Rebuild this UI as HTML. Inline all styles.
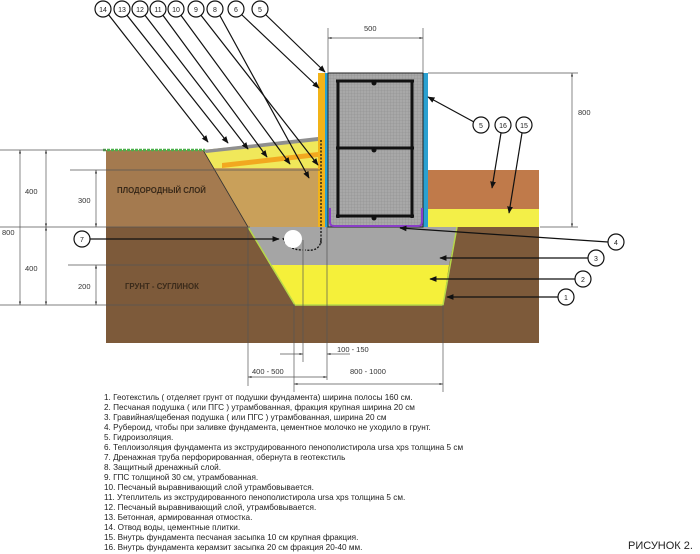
<!DOCTYPE html>
<html><head><meta charset="utf-8"><style>
html,body{margin:0;padding:0;background:#fff}
svg{display:block}
text{font-family:"Liberation Sans",sans-serif}
</style></head><body>
<svg width="700" height="554" viewBox="0 0 700 554" xmlns="http://www.w3.org/2000/svg">
<defs>
<marker id="a" viewBox="0 0 10 10" refX="9" refY="5" markerWidth="6" markerHeight="6" orient="auto-start-reverse"><path d="M0,1 L10,5 L0,9z" fill="#111"/></marker>
<marker id="d" viewBox="0 0 10 10" refX="10" refY="5" markerWidth="5" markerHeight="5" orient="auto-start-reverse"><path d="M0,2 L10,5 L0,8z" fill="#333"/></marker>
<pattern id="g" width="3" height="3" patternUnits="userSpaceOnUse"><rect width="3" height="3" fill="#a8a8a8"/><path d="M0,0H3M0,0V3" stroke="#8c8c8c" stroke-width="0.6"/></pattern>
</defs>
<rect x="106" y="150" width="220" height="77" fill="#a47a4f"/>
<rect x="106" y="227" width="433" height="116" fill="#7d5a3a"/>
<polygon points="203,150 318,138 318,227 248,227" fill="#c9a05a"/>
<polygon points="203,150 318,138 318,168 214,168" fill="#f0e85a"/>
<polygon points="222,163 318,152 318,157 222,168" fill="#f2a820"/>
<polygon points="203,150 318,137 318,141 206,153" fill="#8f8f8f"/>
<line x1="203" y1="150" x2="248" y2="227" stroke="#333" stroke-width="0.8"/>
<polygon points="248,227 457,227 449,265 270,265" fill="#a5a5a5"/>
<polygon points="270,265 449,265 443,305 295,305" fill="#f5f03a"/>
<polyline points="248,227 295,305 443,305 457,227" fill="none" stroke="#b6d84a" stroke-width="1.5"/>
<rect x="428" y="170" width="111" height="39" fill="#c07a4a"/>
<rect x="428" y="209" width="111" height="18" fill="#f3ef48"/>
<line x1="103" y1="150" x2="205" y2="150" stroke="#4cb04c" stroke-width="2.5" stroke-dasharray="3,1"/>
<rect x="318" y="73" width="7" height="154" fill="#f2b318"/>
<rect x="325" y="73" width="3" height="154" fill="#2aa0d0"/>
<rect x="423" y="73" width="5" height="154" fill="#2aa0d0"/>
<rect x="328" y="73" width="95" height="154" fill="url(#g)" stroke="#222" stroke-width="1"/>
<path d="M330,208 V222 Q330,226 334,226 H418 Q422,226 422,222 V208" fill="none" stroke="#8a3ec8" stroke-width="2"/>
<g stroke="#111" stroke-width="3">
<line x1="338" y1="80" x2="338" y2="218"/><line x1="412" y1="80" x2="412" y2="218"/>
<line x1="336" y1="81" x2="414" y2="81"/><line x1="336" y1="148" x2="414" y2="148"/><line x1="336" y1="216" x2="414" y2="216"/>
</g>
<g fill="#111"><circle cx="374" cy="83" r="2.5"/><circle cx="374" cy="150" r="2.5"/><circle cx="374" cy="218" r="2.5"/></g>
<line x1="321" y1="140" x2="321" y2="245" stroke="#111" stroke-width="1.3" stroke-dasharray="2,1.5"/>
<path d="M321,240 Q320,252 305,250 M283,238 Q287,250 303,250" fill="none" stroke="#111" stroke-width="1.3" stroke-dasharray="2,1.5"/>
<circle cx="293" cy="239" r="9" fill="#fff"/>
<g stroke="#555" stroke-width="0.7" fill="none">
<line x1="0" y1="150" x2="106" y2="150"/>
<line x1="70" y1="170" x2="320" y2="170"/>
<line x1="0" y1="227" x2="250" y2="227"/>
<line x1="68" y1="265" x2="270" y2="265"/>
<line x1="0" y1="305" x2="295" y2="305"/>
<line x1="20" y1="150" x2="20" y2="305" marker-start="url(#d)" marker-end="url(#d)"/>
<line x1="46" y1="150" x2="46" y2="227" marker-start="url(#d)" marker-end="url(#d)"/>
<line x1="46" y1="227" x2="46" y2="305" marker-start="url(#d)" marker-end="url(#d)"/>
<line x1="96" y1="170" x2="96" y2="227" marker-start="url(#d)" marker-end="url(#d)"/>
<line x1="96" y1="265" x2="96" y2="305" marker-start="url(#d)" marker-end="url(#d)"/>
<line x1="328" y1="28" x2="328" y2="73"/><line x1="423" y1="28" x2="423" y2="73"/>
<line x1="328" y1="38" x2="423" y2="38" marker-start="url(#d)" marker-end="url(#d)"/>
<line x1="428" y1="73" x2="578" y2="73"/><line x1="540" y1="227" x2="578" y2="227"/>
<line x1="572" y1="73" x2="572" y2="227" marker-start="url(#d)" marker-end="url(#d)"/>
<line x1="248" y1="227" x2="248" y2="386"/>
<line x1="294" y1="305" x2="294" y2="392"/>
<line x1="303" y1="240" x2="303" y2="362"/>
<line x1="327" y1="227" x2="327" y2="380"/>
<line x1="443" y1="305" x2="443" y2="392"/>
<line x1="280" y1="354" x2="303" y2="354" marker-end="url(#d)"/>
<line x1="350" y1="354" x2="327" y2="354" marker-end="url(#d)"/>
<line x1="248" y1="377" x2="327" y2="377" marker-start="url(#d)" marker-end="url(#d)"/>
<line x1="294" y1="384" x2="443" y2="384" marker-start="url(#d)" marker-end="url(#d)"/>
</g>
<g font-size="7.5" fill="#333">
<text x="364" y="31">500</text><text x="578" y="115">800</text>
<text x="25" y="194">400</text><text x="2" y="235">800</text><text x="25" y="271">400</text>
<text x="78" y="203">300</text><text x="78" y="289">200</text>
<text x="337" y="352">100 - 150</text><text x="252" y="374">400 - 500</text><text x="350" y="374">800 - 1000</text>
</g>
<g font-size="7.8" font-weight="bold" fill="#3a2a1a">
<text x="117" y="193">ПЛОДОРОДНЫЙ СЛОЙ</text>
<text x="125" y="289">ГРУНТ - СУГЛИНОК</text>
</g>
<g stroke="#111" stroke-width="1.2" fill="none" marker-end="url(#a)">
<line x1="108" y1="14" x2="208" y2="142"/>
<line x1="126" y1="14" x2="228" y2="143"/>
<line x1="144" y1="14" x2="248" y2="149"/>
<line x1="162" y1="14" x2="267" y2="157"/>
<line x1="180" y1="14" x2="290" y2="164"/>
<line x1="200" y1="14" x2="318" y2="165"/>
<line x1="219" y1="14" x2="309" y2="178"/>
<line x1="241" y1="14" x2="319" y2="88"/>
<line x1="265" y1="14" x2="325" y2="72"/>
<line x1="474" y1="122" x2="428" y2="97"/>
<line x1="501" y1="133" x2="492" y2="188"/>
<line x1="522" y1="133" x2="509" y2="213"/>
<line x1="608" y1="242" x2="400" y2="228"/>
<line x1="588" y1="258" x2="440" y2="258"/>
<line x1="575" y1="279" x2="430" y2="279"/>
<line x1="558" y1="297" x2="447" y2="297"/>
<line x1="90" y1="239" x2="279" y2="239"/>
</g>
<g fill="#fff" stroke="#111" stroke-width="1.2">
<circle cx="103" cy="9" r="8"/><circle cx="122" cy="9" r="8"/><circle cx="140" cy="9" r="8"/><circle cx="158" cy="9" r="8"/><circle cx="176" cy="9" r="8"/><circle cx="196" cy="9" r="8"/><circle cx="215" cy="9" r="8"/><circle cx="236" cy="9" r="8"/><circle cx="260" cy="9" r="8"/>
<circle cx="481" cy="125" r="8"/><circle cx="503" cy="125" r="8"/><circle cx="524" cy="125" r="8"/>
<circle cx="616" cy="242" r="8"/><circle cx="596" cy="258" r="8"/><circle cx="583" cy="279" r="8"/><circle cx="566" cy="297" r="8"/>
<circle cx="82" cy="239" r="8"/>
</g>
<g font-size="7" fill="#222" text-anchor="middle">
<text x="103" y="12">14</text><text x="122" y="12">13</text><text x="140" y="12">12</text><text x="158" y="12">11</text><text x="176" y="12">10</text><text x="196" y="12">9</text><text x="215" y="12">8</text><text x="236" y="12">6</text><text x="260" y="12">5</text>
<text x="481" y="128">5</text><text x="503" y="128">16</text><text x="524" y="128">15</text>
<text x="616" y="245">4</text><text x="596" y="261">3</text><text x="583" y="282">2</text><text x="566" y="300">1</text><text x="82" y="242">7</text>
</g>
<g font-size="8.2" fill="#222">
<text x="104" y="400">1. Геотекстиль ( отделяет грунт от подушки фундамента) ширина полосы 160 см.</text>
<text x="104" y="410">2. Песчаная подушка ( или ПГС ) утрамбованная, фракция крупная ширина 20 см</text>
<text x="104" y="420">3.  Гравийная/щебеная подушка ( или ПГС ) утрамбованная,  ширина 20 см</text>
<text x="104" y="430">4. Рубероид, чтобы при заливке фундамента, цементное молочко не уходило в грунт.</text>
<text x="104" y="440">5. Гидроизоляция.</text>
<text x="104" y="450">6.  Теплоизоляция фундамента из экструдированного пенополистирола ursa xps  толщина 5 см</text>
<text x="104" y="460">7. Дренажная труба перфорированная, обернута в геотекстиль</text>
<text x="104" y="470">8. Защитный дренажный слой.</text>
<text x="104" y="480">9. ГПС толщиной 30 см, утрамбованная.</text>
<text x="104" y="490">10. Песчаный выравнивающий слой утрамбовывается.</text>
<text x="104" y="500">11.  Утеплитель из экструдированного пенополистирола ursa xps  толщина 5 см.</text>
<text x="104" y="510">12. Песчаный выравнивающий слой, утрамбовывается.</text>
<text x="104" y="520">13. Бетонная, армированная отмостка.</text>
<text x="104" y="530">14. Отвод воды, цементные плитки.</text>
<text x="104" y="540">15. Внутрь фундамента песчаная засыпка 10 см крупная фракция.</text>
<text x="104" y="550">16. Внутрь фундамента керамзит засыпка 20 см фракция 20-40 мм.</text>
</g>
<text x="628" y="549" font-size="11" fill="#222">РИСУНОК 2.</text>
</svg>
</body></html>
